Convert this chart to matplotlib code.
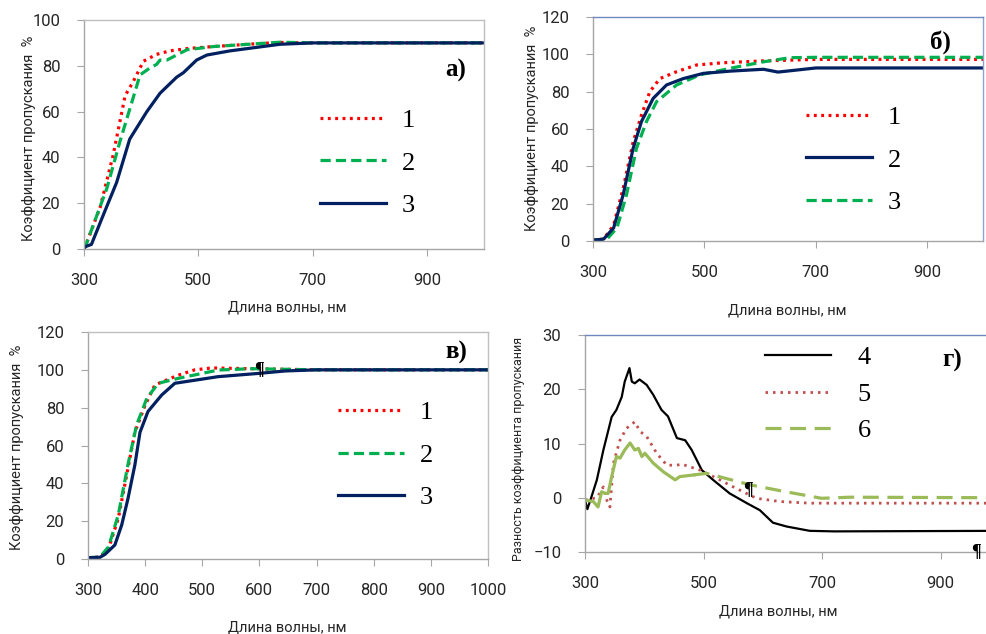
import matplotlib.pyplot as plt

# ---- data ----
# panel а)
wl_a1 = [300, 302, 328, 351, 372, 386, 404, 427, 450, 483, 526, 600, 643, 700, 1000]
t_a1 = [0, 1, 18, 41, 67, 73, 82, 85, 86.5, 87.6, 88.4, 89.6, 90.2, 90, 90]
wl_a2 = [300, 303, 340, 363, 386, 398, 415, 427, 433, 445, 480, 526, 643, 700, 1000]
t_a2 = [0, 1.5, 26.5, 47, 66, 76, 79, 80.6, 82.5, 82.5, 87, 88.4, 90.3, 90, 90]
wl_a3 = [300, 302, 313, 334, 357, 380, 410, 433, 462, 474, 497, 515, 555, 643, 700, 1000]
t_a3 = [0, 1, 2, 15, 29, 48, 60, 68, 75, 77, 82.5, 84.7, 86.5, 89.4, 90, 90]

# panel б)
wl_b1 = [300, 319, 337, 354, 372, 387, 402, 420, 450, 486, 534, 606, 700, 1000]
t_b1 = [0.5, 1, 8.5, 28, 53, 67.5, 80, 87, 90.7, 94.3, 95.5, 96.5, 97.3, 97.3]
wl_b2 = [300, 319, 337, 354, 372, 387, 408, 432, 462, 498, 546, 606, 632, 654, 700, 1000]
t_b2 = [0.5, 1, 7, 24.6, 49.6, 64, 76.4, 83.6, 87, 89.8, 91, 92, 90.5, 91.2, 92.7, 92.7]
wl_b3 = [300, 325, 343, 360, 378, 396, 414, 450, 492, 546, 606, 654, 700, 1000]
t_b3 = [0.5, 1, 7, 24.6, 49.6, 64, 74.6, 83.6, 89, 92.5, 96, 98.2, 98.4, 98.4]

# panel в)
wl_c1 = [300, 321, 336, 353, 370, 382, 400, 417, 458, 487, 516, 600, 700, 1000]
t_c1 = [0.7, 1, 5.6, 21.5, 48, 67, 81.4, 92, 97.2, 100, 101, 100.5, 100, 100]
wl_c2 = [300, 321, 336, 353, 370, 385, 403, 423, 458, 528, 586, 700, 1000]
t_c2 = [0.7, 1, 6.5, 23.3, 50, 70.8, 85, 92.9, 95.5, 99.9, 100.6, 100, 100]
wl_c3 = [300, 321, 330, 347, 359, 370, 382, 391, 405, 429, 452, 528, 598, 645, 700, 1000]
t_c3 = [0.7, 0.9, 2.5, 7.4, 18, 32, 49.7, 67, 78, 86.7, 92.9, 96.4, 98.1, 99.4, 100, 100]

# panel г) - differences
wl_d4 = [300, 304, 311, 320, 331, 345, 353, 362, 367, 375, 379, 384, 392, 404, 415, 429, 440,
         455, 469, 480, 497, 516, 544, 573, 595, 617, 640, 679, 720, 1000]
d4 = [-0.4, -2.1, 0.2, 3.3, 8.8, 14.9, 16.2, 18.6, 21.4, 23.9, 21.4, 21.1, 21.8, 20.8, 19, 16.2, 15,
      11, 10.6, 8.8, 5.1, 3.3, 0.8, -1, -2.3, -4.6, -5.3, -6.1, -6.2, -6.1]
wl_d5 = [300, 320, 331, 337, 342, 348, 359, 370, 384, 393, 404, 421, 438, 455, 463, 494, 522,
         550, 589, 629, 679, 720, 1000]
d5 = [-0.4, 0, 2, -0.5, -1.7, 6.4, 10.6, 12.8, 14, 12.2, 11.3, 8.2, 6, 6, 6.2, 5.1, 3.6,
      2, -0.1, -0.7, -1, -1, -1]
wl_d6 = [300, 314, 322, 328, 334, 339, 345, 353, 359, 367, 376, 384, 390, 396, 401, 415, 432,
         452, 460, 483, 505, 578, 634, 699, 747, 1000]
d6 = [-0.4, -0.7, -1.7, 1.1, 0.8, 0.8, 3.9, 7.6, 7.3, 8.8, 10.1, 8.8, 9.1, 7.6, 8.2, 6.4, 4.8,
      3.3, 3.9, 4.2, 4.5, 2.4, 1.2, -0.1, 0.1, 0]
split6 = 19  # jagged part looks solid in the original

labels_top = ['1', '2', '3']
labels_bot = ['4', '5', '6']

W, H = 987, 634
sans = ['Roboto', 'DejaVu Sans']
serif = 'Liberation Serif'

RED = '#FF0000'
GREEN = '#00B050'
NAVY = '#002060'
dot = (0, (0.9, 1.4))
dash = (0, (3.2, 1.6))

fig = plt.figure(figsize=(W / 100, H / 100), dpi=100)


def make_axes(left, top, right, bottom):
    return fig.add_axes([left / W, 1 - bottom / H, (right - left) / W, (bottom - top) / H])


def style(ax, xticks, ylim, yticks, ylabel, xl_pos, yl_pos, blue_frame=False, yl_size=10.5):
    ax.set_xlim(300, 1000)
    ax.set_ylim(*ylim)
    ax.set_xticks(xticks)
    ax.set_yticks(yticks)
    for s in ax.spines.values():
        s.set_color('#BFBFBF')
        s.set_linewidth(1.0)
    ax.spines['left'].set_color('#A6A6A6')
    ax.spines['bottom'].set_color('#A6A6A6')
    if blue_frame:
        ax.spines['top'].set_color('#6F88BF')
        ax.spines['right'].set_color('#8FA2C8')
    ax.tick_params(axis='both', direction='out', length=5, color='#A6A6A6',
                   labelsize=12, labelcolor='#262626')
    ax.tick_params(axis='x', pad=12)
    ax.tick_params(axis='y', pad=12)
    for lab in ax.get_xticklabels() + ax.get_yticklabels():
        lab.set_family(sans)
    ax.set_xlabel('Длина волны, нм', family=sans, fontsize=10.5, color='#262626')
    ax.set_ylabel(ylabel, family=sans, fontsize=yl_size, color='#262626')
    ax.xaxis.set_label_coords(*xl_pos)
    ax.yaxis.set_label_coords(*yl_pos)


def legend(ax, handles, labels, x, y, spacing=0.72, pad=0.6):
    ax.legend(handles, labels, loc='center left', bbox_to_anchor=(x, y), frameon=False,
              prop={'family': serif, 'size': 19}, handlelength=2.5, handletextpad=pad,
              labelspacing=spacing, borderpad=0, borderaxespad=0)


def tag(ax, text, x, y):
    ax.text(x, y, text, transform=ax.transAxes, family=serif, fontweight='bold',
            fontsize=18, ha='center', va='center', color='black')


ylab = 'Коэффициент пропускания  %'

# а)
ax = make_axes(84, 20, 484, 249)
l1, = ax.plot(wl_a1, t_a1, color=RED, lw=2.3, ls=dot)
l2, = ax.plot(wl_a2, t_a2, color=GREEN, lw=2.3, ls=dash)
l3, = ax.plot(wl_a3, t_a3, color=NAVY, lw=2.3)
style(ax, [300, 500, 700, 900], (0, 100), range(0, 101, 20), ylab,
      (0.507, -0.227), (-0.12, 0.485))
legend(ax, [l1, l2, l3], labels_top, 0.59, 0.376)
tag(ax, 'а)', 0.93, 0.78)

# б)
ax = make_axes(593, 17, 983, 241)
l1, = ax.plot(wl_b1, t_b1, color=RED, lw=2.3, ls=dot)
l3, = ax.plot(wl_b3, t_b3, color=GREEN, lw=2.3, ls=dash)
l2, = ax.plot(wl_b2, t_b2, color=NAVY, lw=2.3)
style(ax, [300, 500, 700, 900], (0, 120), range(0, 121, 20), ylab,
      (0.497, -0.277), (-0.138, 0.504), blue_frame=True)
legend(ax, [l1, l2, l3], labels_top, 0.546, 0.362)
tag(ax, 'б)', 0.892, 0.888)

# в)
ax = make_axes(88, 332, 488, 559)
l1, = ax.plot(wl_c1, t_c1, color=RED, lw=2.3, ls=dot)
l2, = ax.plot(wl_c2, t_c2, color=GREEN, lw=2.3, ls=dash)
l3, = ax.plot(wl_c3, t_c3, color=NAVY, lw=2.3)
style(ax, range(300, 1001, 100), (0, 120), range(0, 121, 20), ylab,
      (0.499, -0.273), (-0.16, 0.493))
legend(ax, [l1, l2, l3], labels_top, 0.625, 0.458)
tag(ax, 'в)', 0.92, 0.912)
ax.text(600, 100, '¶', family=serif, fontweight='bold', fontsize=13, ha='center', va='center')

# г)
ax = make_axes(585, 335, 1000, 552)
l4, = ax.plot(wl_d4, d4, color='black', lw=1.6)
l5, = ax.plot(wl_d5, d5, color='#C0504D', lw=2.0, ls=(0, (0.9, 1.8)))
ax.plot(wl_d6[:split6 + 1], d6[:split6 + 1], color='#9BBB59', lw=2.3)
l6, = ax.plot(wl_d6[split6:], d6[split6:], color='#9BBB59', lw=2.3, ls=(0, (5, 2.7)))
style(ax, [300, 500, 700, 900], (-10, 30), range(-10, 31, 10),
      'Разность коэффициента пропускания', (0.465, -0.244), (-0.145, 0.475),
      blue_frame=True, yl_size=9)
legend(ax, [l4, l5, l6], labels_bot, 0.434, 0.728, spacing=0.5, pad=1.0)
tag(ax, 'г)', 0.884, 0.885)
ax.text(575, 1.5, '¶', family=serif, fontweight='bold', fontsize=13, ha='center', va='center')
ax.text(960, -10, '¶', family=serif, fontweight='bold', fontsize=13, ha='center', va='center',
        clip_on=False)

fig.savefig('out.png', dpi=100)
